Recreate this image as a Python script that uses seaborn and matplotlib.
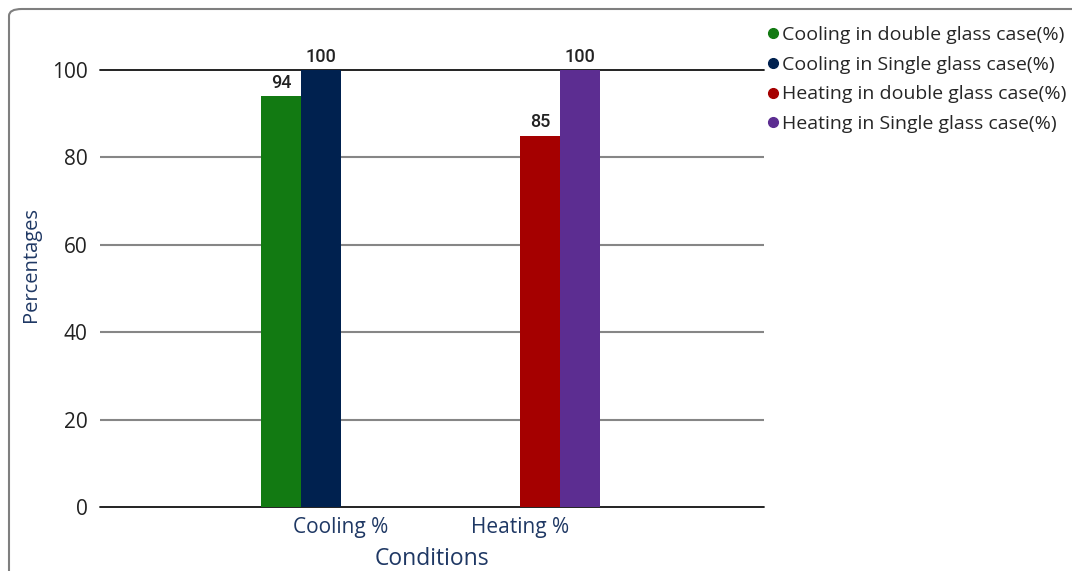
import matplotlib
matplotlib.use("Agg")
import matplotlib.pyplot as plt
from matplotlib.lines import Line2D
from matplotlib.patches import FancyBboxPatch
import pandas as pd
import seaborn as sns

# Data
conditions = ["Cooling %", "Heating %"]
series = [
    "Cooling in double glass case(%)",
    "Cooling in Single glass case(%)",
    "Heating in double glass case(%)",
    "Heating in Single glass case(%)",
]
cooling_values = [94, 100, None, None]   # per series, for "Cooling %"
heating_values = [None, None, 85, 100]   # per series, for "Heating %"
colors = ["#127a12", "#00214f", "#a50000", "#5c2d91"]

rows = []
for cond, vals in zip(conditions, [cooling_values, heating_values]):
    for s, v in zip(series, vals):
        if v is not None:
            rows.append({"Conditions": cond, "Series": s, "Value": v})
df = pd.DataFrame(rows)

sns.set_theme(style="white")
plt.rcParams["font.family"] = ["Open Sans", "DejaVu Sans"]

fig = plt.figure(figsize=(10.72, 5.71), dpi=100)
ax = fig.add_axes([100 / 1072, 1 - 507 / 571, 664 / 1072, 437 / 571])

sns.barplot(
    data=df, x="Conditions", y="Value", hue="Series",
    order=conditions, hue_order=series, palette=colors,
    width=160 / 179, saturation=1, ax=ax, legend=False, linewidth=0,
)

ax.set_ylim(0, 100)
ax.set_xlim(-(341 - 100) / 179, 1 + (764 - 520) / 179)
ax.set_yticks([0, 20, 40, 60, 80, 100])

# horizontal gridlines
for y in [20, 40, 60, 80]:
    ax.axhline(y, color="#868686", lw=1.5, zorder=0)
for y in [0, 100]:
    ax.axhline(y, color="#111111", lw=1.3, zorder=0.5, clip_on=False)

for sp in ax.spines.values():
    sp.set_visible(False)
ax.tick_params(axis="both", length=0)
ax.tick_params(axis="y", labelsize=15, labelcolor="#222222", pad=9)
ax.tick_params(axis="x", labelsize=15, labelcolor="#1f3864", pad=7)

ax.set_xlabel("Conditions", fontsize=16.5, color="#1f3864", labelpad=7)
ax.set_ylabel("Percentages", fontsize=14.5, color="#1f3864")
ax.yaxis.set_label_coords(-0.089, (507 - 265) / 437)

# value labels
for container in ax.containers:
    ax.bar_label(container, fmt="%d", padding=3, fontsize=13,
                 fontweight="medium", color="#222222", family="Roboto",
                 clip_on=False)

# legend with round markers
handles = [Line2D([], [], marker="o", linestyle="none", markersize=7,
                  markerfacecolor=c, markeredgecolor=c) for c in colors]
fig.legend(handles, series, loc="upper left",
           bbox_to_anchor=(768 / 1072, 1 - 26 / 571),
           frameon=False, fontsize=14, handlelength=0.5,
           handletextpad=0.2, labelspacing=0.6, borderaxespad=0,
           borderpad=0)

# rounded outer frame
frame = FancyBboxPatch((9 / 1072, -0.2), 1.2, 1 - 9 / 571 + 0.2,
                       boxstyle="round,pad=0,rounding_size=0.012",
                       transform=fig.transFigure, fill=False,
                       edgecolor="#7f7f7f", lw=1.5, clip_on=False)
fig.patches.append(frame)

fig.savefig("out.png", dpi=100)
